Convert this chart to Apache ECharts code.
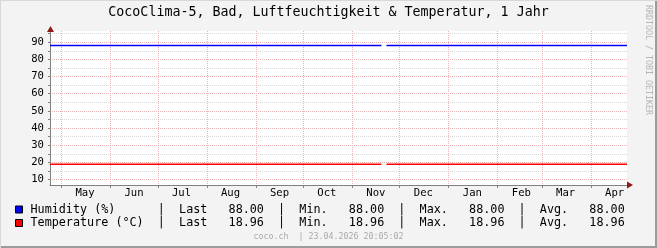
<!DOCTYPE html>
<html>
<head>
<meta charset="utf-8">
<script src="https://cdn.jsdelivr.net/npm/echarts@6/dist/echarts.min.js"></script>
<style>
html,body{margin:0;padding:0;background:#F3F3F3;}
#c{width:657px;height:248px;}
</style>
</head>
<body>
<div id="c"></div>
<script>
// ---- data ----
const chartTitle = 'CocoClima-5, Bad, Luftfeuchtigkeit & Temperatur, 1 Jahr';
const rangeStart = '2025-04-23T20:05:02';
const rangeEnd = '2026-04-23T20:05:02';
const monthLabels = ['May','Jun','Jul','Aug','Sep','Oct','Nov','Dec','Jan','Feb','Mar','Apr'];
const monthStarts = ['2025-05-01','2025-06-01','2025-07-01','2025-08-01','2025-09-01','2025-10-01','2025-11-01','2025-12-01','2026-01-01','2026-02-01','2026-03-01','2026-04-01'];
const monthLabelDates = ['2025-05-16','2025-06-16','2025-07-16','2025-08-16','2025-09-16','2025-10-16','2025-11-16','2025-12-16','2026-01-16','2026-02-16','2026-03-16','2026-04-16'];
const sampleTimes = ['2025-04-23T20:05:02','2025-11-19T12:00:00','2025-11-21T00:00:00','2025-11-22T16:00:00','2026-04-23T20:05:02'];
const humidity = [88, 88, null, 88, 88];
const temperature = [18.96, 18.96, null, 18.96, 18.96];
const yLabelValues = [10,20,30,40,50,60,70,80,90];
const yMinorValues = [10,15,20,25,30,35,40,45,50,55,60,65,70,75,80,85,90,95];
const yMin = 6.9, yMax = 96.5;
const seriesNames = ['Humidity (%)', 'Temperature (°C)'];
const footerText = 'coco.ch  | 23.04.2026 20:05:02';
const sideText = 'RRDTOOL / TOBI OETIKER';

// ---- helpers ----
const ts = s => Date.parse((s.length === 10 ? s + 'T00:00:00' : s) + 'Z');
const pairs = vals => sampleTimes.map((t, i) => [ts(t), vals[i]]);
function stats(vals) {
  const v = vals.filter(x => x !== null);
  const sum = v.reduce((a, b) => a + b, 0);
  return { last: v[v.length - 1], min: Math.min(...v), max: Math.max(...v), avg: sum / v.length };
}
const f = v => v.toFixed(2).padStart(8);
function legendLine(name, vals) {
  const s = stats(vals);
  return name.padEnd(18) + '|  Last' + f(s.last) + '  |  Min.' + f(s.min) + '  |  Max.' + f(s.max) + '  |  Avg.' + f(s.avg);
}
const legendText = {};
legendText[seriesNames[0]] = legendLine(seriesNames[0], humidity);
legendText[seriesNames[1]] = legendLine(seriesNames[1], temperature);
const labelTs = monthLabelDates.map(ts);

const mono = 'DejaVu Sans Mono';
const chart = echarts.init(document.getElementById('c'), null, { renderer: 'canvas' });
const gridDash = [1, 1];
const legendBase = {
  left: 10, orient: 'vertical', selectedMode: false, icon: 'rect',
  itemWidth: 7, itemHeight: 7, itemGap: 0, itemTextGap: 8,
  itemStyle: { borderColor: '#000', borderWidth: 1 },
  textStyle: { fontFamily: mono, fontSize: 11.75, color: '#000', padding: [0, 0, 0, 3] },
  formatter: n => legendText[n]
};
chart.setOption({
  animation: false,
  backgroundColor: '#F3F3F3',
  title: [
    { text: chartTitle, left: 'center', top: 1.3, textStyle: { fontFamily: mono, fontSize: 13.3, fontWeight: 'normal', color: '#000' } },
    { text: footerText, left: 'center', top: 227.8, textStyle: { fontFamily: mono, fontSize: 8.3, fontWeight: 'normal', color: '#aaaaaa' } }
  ],
  legend: [
    Object.assign({}, legendBase, { top: 198.5, data: [seriesNames[0]] }),
    Object.assign({}, legendBase, { top: 212, data: [seriesNames[1]] })
  ],
  grid: { left: 50, right: 30, top: 31, bottom: 63, show: true, backgroundColor: '#ffffff', borderWidth: 0 },
  xAxis: [{
    type: 'value', min: ts(rangeStart), max: ts(rangeEnd),
    axisLine: { show: true, lineStyle: { color: '#808080', width: 1 } },
    axisTick: { show: true, length: 3, customValues: monthStarts.map(ts), lineStyle: { color: '#808080' } },
    axisLabel: {
      customValues: labelTs, margin: 3, fontFamily: mono, fontSize: 10.6, color: '#000',
      formatter: v => monthLabels[labelTs.indexOf(v)]
    },
    splitLine: { show: true, lineStyle: { color: '#EDB6B6', type: gridDash, width: 1 } }
  }],
  yAxis: [{
    type: 'value', min: yMin, max: yMax,
    axisLine: { show: true, lineStyle: { color: '#808080', width: 1 } },
    axisTick: { show: true, length: 2, customValues: yMinorValues, lineStyle: { color: '#808080' } },
    axisLabel: { customValues: yLabelValues, margin: 6, fontFamily: mono, fontSize: 10.6, color: '#000' },
    splitLine: { show: true, lineStyle: { color: '#D9D9D9', type: gridDash, width: 1 } }
  }, {
    type: 'value', min: yMin, max: yMax, position: 'left',
    axisLine: { show: false },
    axisTick: { show: false, customValues: yLabelValues },
    axisLabel: { show: false, customValues: yLabelValues },
    splitLine: { show: true, lineStyle: { color: '#EDB6B6', type: gridDash, width: 1 } }
  }],
  series: [
    { name: seriesNames[0], type: 'line', data: pairs(humidity), yAxisIndex: 0, showSymbol: false, symbol: 'none', connectNulls: false,
      itemStyle: { color: '#0000FF' }, lineStyle: { color: '#0000FF', width: 1.5 }, z: 5 },
    { name: seriesNames[1], type: 'line', data: pairs(temperature), yAxisIndex: 0, showSymbol: false, symbol: 'none', connectNulls: false,
      itemStyle: { color: '#FF0000' }, lineStyle: { color: '#FF0000', width: 1.5 }, z: 5 }
  ],
  graphic: [
    { type: 'polygon', shape: { points: [[47, 32], [50.5, 26], [54, 32]] }, style: { fill: '#8B1A1A' }, z: 10 },
    { type: 'polygon', shape: { points: [[627, 181.5], [633, 185], [627, 188.5]] }, style: { fill: '#8B1A1A' }, z: 10 },
    { type: 'text', x: 648.5, y: 5, rotation: -Math.PI / 2, style: { text: sideText, font: '8.3px "DejaVu Sans Mono"', fill: '#b5b5b5', textAlign: 'left', textVerticalAlign: 'middle' } },
    { type: 'rect', shape: { x: 0, y: 246, width: 657, height: 2 }, style: { fill: '#9c9c9c' } },
    { type: 'rect', shape: { x: 655, y: 0, width: 2, height: 248 }, style: { fill: '#9c9c9c' } },
    { type: 'rect', shape: { x: 0, y: 0, width: 657, height: 1 }, style: { fill: '#d8d8d8' } },
    { type: 'rect', shape: { x: 0, y: 0, width: 1, height: 248 }, style: { fill: '#d8d8d8' } }
  ]
});
</script>
</body>
</html>
